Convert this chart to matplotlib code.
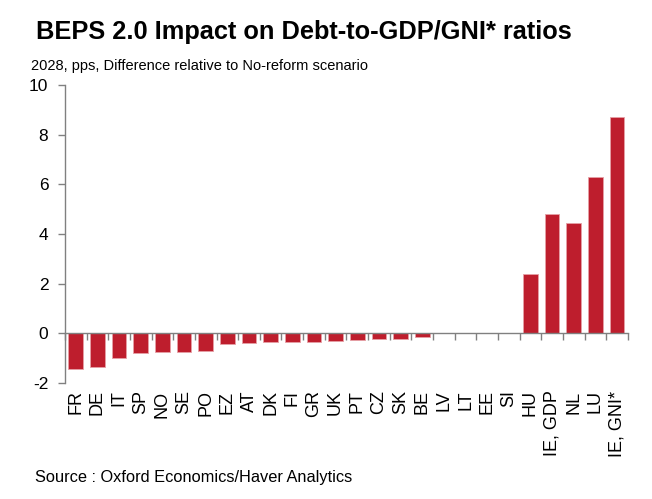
import numpy as np
import matplotlib.pyplot as plt
import matplotlib.transforms as mtransforms

plt.rcParams['font.family'] = ['Liberation Sans', 'DejaVu Sans']

countries = ['FR', 'DE', 'IT', 'SP', 'NO', 'SE', 'PO', 'EZ', 'AT', 'DK', 'FI', 'GR', 'UK',
             'PT', 'CZ', 'SK', 'BE', 'LV', 'LT', 'EE', 'SI', 'HU', 'IE, GDP', 'NL', 'LU', 'IE, GNI*']
impact = [-1.45, -1.37, -1.0, -0.8, -0.77, -0.77, -0.7, -0.42, -0.38, -0.35, -0.33, -0.33, -0.3,
          -0.28, -0.24, -0.24, -0.15, 0, 0, 0, 0, 2.37, 4.79, 4.45, 6.28, 8.7]
yticks = [-2, 0, 2, 4, 6, 8, 10]

grey = '#808080'
red = '#BE1E2D'

fig = plt.figure(figsize=(6.52, 4.99), dpi=100)
ax = fig.add_axes([0.0997, 0.2325, 0.8633, 0.5972])

x = np.arange(len(countries))
ax.bar(x, impact, width=0.68, color=red, edgecolor='#E6A0A6', linewidth=0.6)

ax.set_xlim(-0.5, len(countries) - 0.5)
ax.set_ylim(-2, 10)
ax.set_yticks(yticks)
ax.set_yticklabels([str(v) for v in yticks], fontsize=12.5)
ax.tick_params(axis='y', direction='out', length=5, color=grey, width=1, pad=7)

ax.spines['top'].set_visible(False)
ax.spines['right'].set_visible(False)
ax.spines['left'].set_color(grey)
ax.spines['bottom'].set_color(grey)
ax.spines['bottom'].set_position(('data', 0))
ax.spines['left'].set_linewidth(1)
ax.spines['bottom'].set_linewidth(1)

ax.set_xticks(np.arange(len(countries) + 1) - 0.5)
ax.set_xticklabels([])
ax.tick_params(axis='x', direction='out', length=5, color=grey, width=1)

trans = mtransforms.blended_transform_factory(ax.transData, ax.transAxes)
for xi, name in zip(x, countries):
    ax.text(xi, -0.025, name, transform=trans, rotation=90, ha='center', va='top', fontsize=13)

fig.text(0.055, 0.936, 'BEPS 2.0 Impact on Debt-to-GDP/GNI* ratios', fontsize=18.3,
         fontweight='bold', va='center')
fig.text(0.047, 0.868, '2028, pps, Difference relative to No-reform scenario', fontsize=10.5,
         va='center')
fig.text(0.053, 0.044, 'Source : Oxford Economics/Haver Analytics', fontsize=11.8, va='center')

plt.savefig('out.png', dpi=100)
